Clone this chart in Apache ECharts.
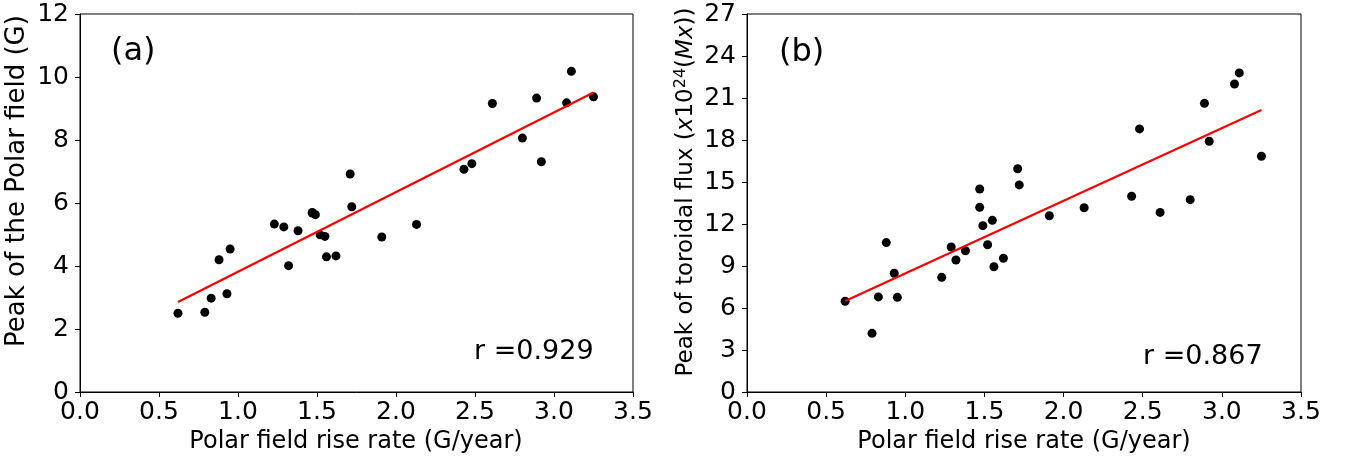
<!DOCTYPE html>
<html>
<head>
<meta charset="utf-8">
<script src="https://cdn.jsdelivr.net/npm/echarts@6/dist/echarts.min.js"></script>
<style>html,body{margin:0;padding:0;background:#fff}#c{width:1350px;height:462px}</style>
</head>
<body>
<div id="c"></div>
<script>
// Polar field rise rate (G/year), shared by both panels
const riseRate = [0.62, 0.79, 0.83, 0.88, 0.93, 0.95, 1.23, 1.29, 1.32, 1.38, 1.47, 1.47, 1.49, 1.52, 1.55, 1.56, 1.62, 1.71, 1.72, 1.91, 2.13, 2.43, 2.48, 2.61, 2.80, 2.89, 2.92, 3.08, 3.11, 3.25];
// Panel (a): peak of the polar field (G)
const polarPeak = [2.50, 2.53, 2.98, 4.20, 3.12, 4.54, 5.33, 5.24, 4.01, 5.12, 5.68, 5.70, 5.63, 4.99, 4.94, 4.29, 4.32, 6.92, 5.88, 4.92, 5.32, 7.07, 7.25, 9.16, 8.06, 9.33, 7.31, 9.18, 10.18, 9.37];
// Panel (b): peak of toroidal flux (x10^24 Mx)
const toroidalPeak = [6.48, 4.19, 6.79, 10.67, 8.48, 6.76, 8.19, 10.36, 9.43, 10.09, 13.19, 14.50, 11.88, 10.52, 12.26, 8.95, 9.55, 15.95, 14.79, 12.59, 13.16, 13.98, 18.79, 12.83, 13.74, 20.62, 17.91, 22.00, 22.79, 16.84];
// Fitted lines (end points)
const fitX = [0.62, 3.25];
const fitA = [2.86, 9.51];
const fitB = [6.50, 20.15];
const rA = 'r =0.929';
const rB = 'r =0.867';

const FONT = 'DejaVu Sans';
const pairs = (xs, ys) => xs.map((x, i) => [x, ys[i]]);

function xAxisCfg(gi) {
  return {
    gridIndex: gi, type: 'value', min: 0, max: 3.5, interval: 0.5,
    axisLine: {show: true, onZero: false, lineStyle: {color: '#000', width: 1}},
    axisTick: {show: true, inside: false, length: 5, lineStyle: {color: '#000', width: 1}},
    axisLabel: {color: '#000', fontFamily: FONT, fontSize: 25, margin: 8, formatter: v => v.toFixed(1)},
    splitLine: {show: false}
  };
}
function yAxisCfg(gi, max, interval) {
  return {
    gridIndex: gi, type: 'value', min: 0, max: max, interval: interval,
    axisLine: {show: true, onZero: false, lineStyle: {color: '#000', width: 1}},
    axisTick: {show: true, inside: false, length: 5, lineStyle: {color: '#000', width: 1}},
    axisLabel: {color: '#000', fontFamily: FONT, fontSize: 25, margin: 11},
    splitLine: {show: false}
  };
}

const chart = echarts.init(document.getElementById('c'), null, {renderer: 'canvas'});
chart.setOption({
  animation: false,
  backgroundColor: '#fff',
  grid: [
    {left: 80, top: 14, width: 553, height: 378, show: true, borderColor: '#000', borderWidth: 1, backgroundColor: 'transparent'},
    {left: 747, top: 14, width: 554, height: 378, show: true, borderColor: '#000', borderWidth: 1, backgroundColor: 'transparent'}
  ],
  xAxis: [xAxisCfg(0), xAxisCfg(1)],
  yAxis: [yAxisCfg(0, 12, 2), yAxisCfg(1, 27, 3)],
  series: [
    {type: 'scatter', xAxisIndex: 0, yAxisIndex: 0, data: pairs(riseRate, polarPeak), symbol: 'circle', symbolSize: 9, itemStyle: {color: '#000', opacity: 1}, z: 2},
    {type: 'line', xAxisIndex: 0, yAxisIndex: 0, data: pairs(fitX, fitA), showSymbol: false, symbol: 'none', lineStyle: {color: '#ff0000', width: 2.2}, z: 3},
    {type: 'scatter', xAxisIndex: 1, yAxisIndex: 1, data: pairs(riseRate, toroidalPeak), symbol: 'circle', symbolSize: 9, itemStyle: {color: '#000', opacity: 1}, z: 2},
    {type: 'line', xAxisIndex: 1, yAxisIndex: 1, data: pairs(fitX, fitB), showSymbol: false, symbol: 'none', lineStyle: {color: '#ff0000', width: 2.2}, z: 3}
  ],
  graphic: [
    {type: 'text', x: 356, y: 442, style: {text: 'Polar field rise rate (G/year)', font: '24px "DejaVu Sans"', fill: '#000', textAlign: 'center', textVerticalAlign: 'middle'}},
    {type: 'text', x: 1024, y: 442, style: {text: 'Polar field rise rate (G/year)', font: '24px "DejaVu Sans"', fill: '#000', textAlign: 'center', textVerticalAlign: 'middle'}},
    {type: 'text', x: 17, y: 181, rotation: Math.PI / 2, style: {text: 'Peak of the Polar field (G)', font: '26px "DejaVu Sans"', fill: '#000', textAlign: 'center', textVerticalAlign: 'middle'}},
    {type: 'text', x: 686, y: 192, rotation: Math.PI / 2, style: {
      text: 'Peak of toroidal flux ({i|x}10{sup|24}({i|Mx}))',
      font: '23px "DejaVu Sans"', fill: '#000', textAlign: 'center', textVerticalAlign: 'middle',
      rich: {
        i: {fontFamily: FONT, fontSize: 23, fontStyle: 'italic', fill: '#000'},
        sup: {fontFamily: FONT, fontSize: 16, fill: '#000', verticalAlign: 'top', padding: [0, 0, 10, 0]}
      }
    }},
    {type: 'text', x: 111, y: 52, style: {text: '(a)', font: '32px "DejaVu Sans"', fill: '#000', textAlign: 'left', textVerticalAlign: 'middle'}},
    {type: 'text', x: 779, y: 53, style: {text: '(b)', font: '32px "DejaVu Sans"', fill: '#000', textAlign: 'left', textVerticalAlign: 'middle'}},
    {type: 'text', x: 474, y: 352, style: {text: rA, font: '27px "DejaVu Sans"', fill: '#000', textAlign: 'left', textVerticalAlign: 'middle'}},
    {type: 'text', x: 1143, y: 357, style: {text: rB, font: '27px "DejaVu Sans"', fill: '#000', textAlign: 'left', textVerticalAlign: 'middle'}}
  ]
});
</script>
</body>
</html>
